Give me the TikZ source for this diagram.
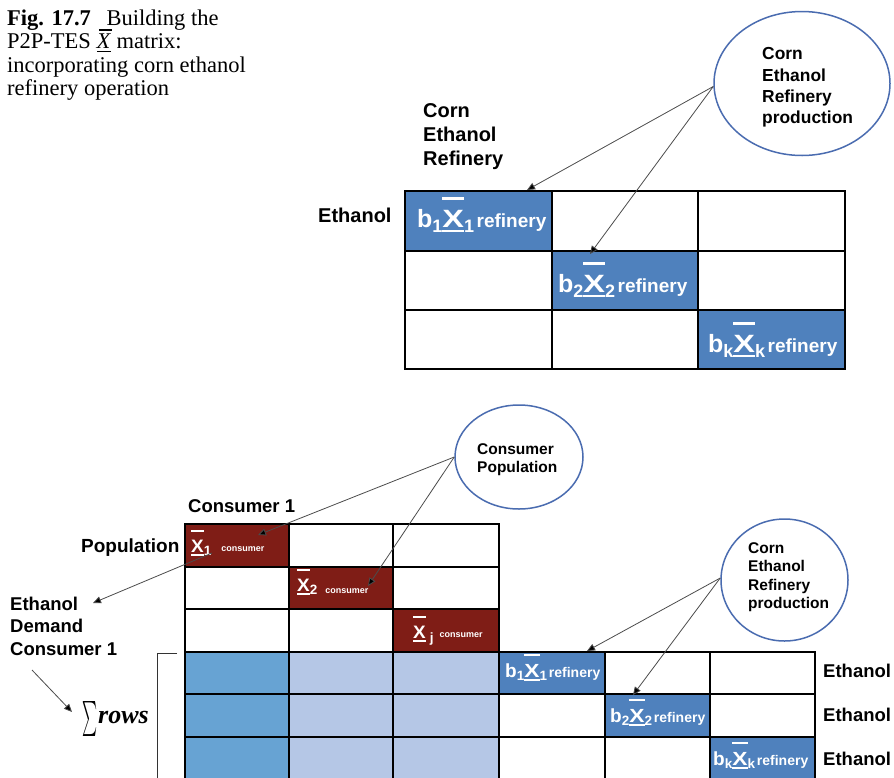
\documentclass[tikz,border=0pt]{standalone}
\usepackage{fix-cm}
\usepackage{graphicx}
\usepackage{fontspec}
\setmainfont{Liberation Serif}
\newfontfamily\arial{Liberation Sans}
\usetikzlibrary{shapes.geometric,arrows.meta}

\definecolor{refblue}{HTML}{4F81BD}
\definecolor{consred}{HTML}{7F1D16}
\definecolor{midblue}{HTML}{67A3D3}
\definecolor{lightblue}{HTML}{B5C7E6}
\definecolor{bubbleblue}{HTML}{4A6CB0}

\newcommand\fsz[1]{\fontsize{#1}{#1}\selectfont}
% bold X with a bar above and a bar below; optional horizontal stretch
\newlength\xbw
\newcommand\Xbar[1][1]{\leavevmode\sbox0{\scalebox{#1}[1]{X}}\xbw=\wd0
  \rlap{\rule[-0.2em]{\xbw}{0.1em}}\rlap{\rule[1.1em]{\xbw}{0.1em}}\usebox0}
% italic X with bars, used in the caption
\newcommand\Xcap{\leavevmode\rlap{\hspace{0.02em}\rule[-0.17em]{0.6em}{0.05em}}%
  \rlap{\hspace{0.1em}\rule[0.8em]{0.6em}{0.05em}}\textit{X}}
% b_i Xbar_i refinery : #1 main size, #2 index size, #3 word size, #4 index, #5 stretch
\newcommand\refl[5]{\fsz{#1}b\raisebox{-0.2em}{\fsz{#2}#4}\Xbar[#5]\raisebox{-0.2em}{\fsz{#2}#4}\hspace{0.1em}{\fsz{#3}refinery}}

\begin{document}
\begin{tikzpicture}[x=1pt,y=-1pt,
  lab/.style={font=\arial\bfseries\fsz{#1}, inner sep=0, anchor=base west},
  lab/.default=19,
  celltxt/.style={font=\arial\bfseries, text=white, inner sep=0, anchor=base west},
  cell/.style={draw=black, line width=1.2pt, anchor=north west, inner sep=0, outer sep=0},
  conn/.style={draw=black!70, line width=0.8pt, -{Triangle[length=8pt,width=7pt,fill=black]}},
  bubble/.style={ellipse, draw=bubbleblue, line width=1.5pt, inner sep=0, fill=white},
  bubtxt/.style={font=\arial\bfseries, align=left, inner sep=0, anchor=north west}]

\useasboundingbox (0,0) rectangle (894,777);
\fill[white] (0,0) rectangle (894,777);
\clip (0,0) rectangle (894,777);

% ---------- caption ----------
\begin{scope}[every node/.style={inner sep=0, anchor=base west, font=\fontsize{22.5}{23.3}\selectfont}]
  \node (cap1) at (7,25) {\textbf{Fig. 17.7}\hspace{0.7em}Building the};
  \node (cap2) at (7,48.5) {P2P-TES \Xcap\ matrix:};
  \node (cap3) at (7,72) {incorporating corn ethanol};
  \node (cap4) at (7,95) {refinery operation};
\end{scope}

% ---------- upper block: refinery matrix ----------
\foreach \r/\ya/\yb in {1/191/251, 2/251/310, 3/310/369}
  \foreach \c/\xa/\xb in {1/405/552, 2/552/698, 3/698/845}{
    \ifnum\r=\c \def\fc{refblue}\else\def\fc{white}\fi
    \pgfmathsetmacro\w{\xb-\xa}\pgfmathsetmacro\h{\yb-\ya}
    \node[cell, fill=\fc, minimum width=\w pt, minimum height=\h pt] (t\r\c) at (\xa,\ya) {};
  }

\node[celltxt] (tb1) at (417,227) {\refl{25}{18}{19}{1}{1.3}};
\node[celltxt] (tb2) at (558,292) {\refl{25}{18}{19}{2}{1.3}};
\node[celltxt] (tb3) at (708,352) {\refl{25}{18}{19}{k}{1.3}};

\node[lab=20] (tcorn1) at (423,117) {Corn};
\node[lab=20] (tcorn2) at (423,141) {Ethanol};
\node[lab=20] (tcorn3) at (423,165) {Refinery};
\node[lab=20] (teth) at (318,222) {Ethanol};

\node[bubble, minimum width=176pt, minimum height=144pt] (topell) at (802,83.5) {};
\node[bubtxt, font=\arial\bfseries\fontsize{17.4}{21.3}\selectfont] (toptxt) at (762,47.5)
  {Corn\\Ethanol\\Refinery\\production};

\coordinate (ta1) at (527,190);
\coordinate (ta2) at (590,254);
\draw[conn] ([yshift=-3pt]topell.west) -- (ta1);
\draw[conn] ([yshift=-3pt]topell.west) -- (ta2);

% ---------- lower block: consumer rows and summed rows ----------
\foreach \r/\ya/\yb in {1/524/567, 2/567/609, 3/609/652, 4/652/694, 5/694/737, 6/737/779}
  \foreach \c/\xa/\xb in {1/185/289, 2/289/393, 3/393/499}{
    \ifnum\r<4
      \ifnum\r=\c \def\fc{consred}\else\def\fc{white}\fi
    \else
      \ifnum\c=1 \def\fc{midblue}\else\def\fc{lightblue}\fi
    \fi
    \pgfmathsetmacro\w{\xb-\xa}\pgfmathsetmacro\h{\yb-\ya}
    \node[cell, fill=\fc, minimum width=\w pt, minimum height=\h pt] (c\r\c) at (\xa,\ya) {};
  }

% lower refinery rows
\foreach \r/\ya/\yb in {4/652/694, 5/694/737, 6/737/779}
  \foreach \c/\xa/\xb in {1/499/605, 2/605/710, 3/710/815}{
    \pgfmathtruncatemacro\d{\r-3}
    \ifnum\d=\c \def\fc{refblue}\else\def\fc{white}\fi
    \pgfmathsetmacro\w{\xb-\xa}\pgfmathsetmacro\h{\yb-\ya}
    \node[cell, fill=\fc, minimum width=\w pt, minimum height=\h pt] (r\r\c) at (\xa,\ya) {};
  }

% consumer entries
\node[celltxt] (cx1) at (191,552) {\fsz{18}\Xbar[1.05]\raisebox{-0.2em}{\fsz{13.5}1}\hspace{10pt}\raisebox{1pt}{\fsz{9}consumer}};
\node[celltxt] (cx2) at (297,591) {\fsz{18}\Xbar[1.05]\raisebox{-0.2em}{\fsz{13.5}2}\hspace{8pt}\raisebox{-2pt}{\fsz{9}consumer}};
\node[celltxt] (cx3) at (413,638) {\fsz{18}\Xbar[1.05]\hspace{4pt}\raisebox{-0.25em}{\fsz{13.5}j}\hspace{6pt}\raisebox{1pt}{\fsz{9}consumer}};

% refinery entries
\node[celltxt] (rb1) at (505,677) {\refl{19}{13.5}{14}{1}{1.2}};
\node[celltxt] (rb2) at (610,722) {\refl{19}{13.5}{14}{2}{1.2}};
\node[celltxt] (rb3) at (713,765) {\refl{19}{13.5}{14}{k}{1.2}};

% labels
\node[lab=18.5] (ccons) at (188,512) {Consumer 1};
\node[lab] (cpop) at (81,552) {Population};
\node[lab=18.5] (dem1) at (10,610) {Ethanol};
\node[lab=18.5] (dem2) at (10,632) {Demand};
\node[lab=18.5] (dem3) at (10,655) {Consumer 1};
\node[lab=18.5] (re1) at (823,677) {Ethanol};
\node[lab=18.5] (re2) at (823,721) {Ethanol};
\node[lab=18.5] (re3) at (823,765) {Ethanol};

\node[inner sep=0, anchor=base west] (sumrows) at (82,723)
  {\raisebox{-5pt}{\resizebox*{15pt}{35pt}{$\sum$}}\hspace{1pt}{\fontsize{26}{26}\selectfont\bfseries\itshape rows}};

% bracket beside the summed rows
\coordinate (brtop) at (177,653);
\coordinate (brcorner) at (157,653);
\coordinate (brbot) at (157,790);
\draw[black!80, line width=1pt] (brtop) -- (brcorner) -- (brbot);

% bubbles
\node[bubble, minimum width=128pt, minimum height=104pt] (consell) at (519,457) {};
\node[bubtxt, font=\arial\bfseries\fontsize{15.5}{18}\selectfont] (constxt) at (477,443.5)
  {Consumer\\Population};

\node[bubble, minimum width=127pt, minimum height=122pt] (botell) at (784.5,580) {};
\node[bubtxt, font=\arial\bfseries\fontsize{15.5}{18.5}\selectfont] (bottxt) at (748,542)
  {Corn\\Ethanol\\Refinery\\production};

% connectors
\coordinate (ca1) at (258,535);
\coordinate (ca2) at (368,586);
\draw[conn] (consell.west) -- (ca1);
\draw[conn] (consell.west) -- (ca2);

\coordinate (dstart) at (212,553);
\coordinate (dend) at (93,603);
\draw[conn] (dstart) -- (dend);

\coordinate (sstart) at (32,670);
\coordinate (send) at (72,712);
\draw[conn] (sstart) -- (send);

\coordinate (ba1) at (587,651);
\coordinate (ba2) at (633,695);
\draw[conn] ([yshift=2pt]botell.west) -- (ba1);
\draw[conn] ([yshift=2pt]botell.west) -- (ba2);
\end{tikzpicture}
\end{document}
